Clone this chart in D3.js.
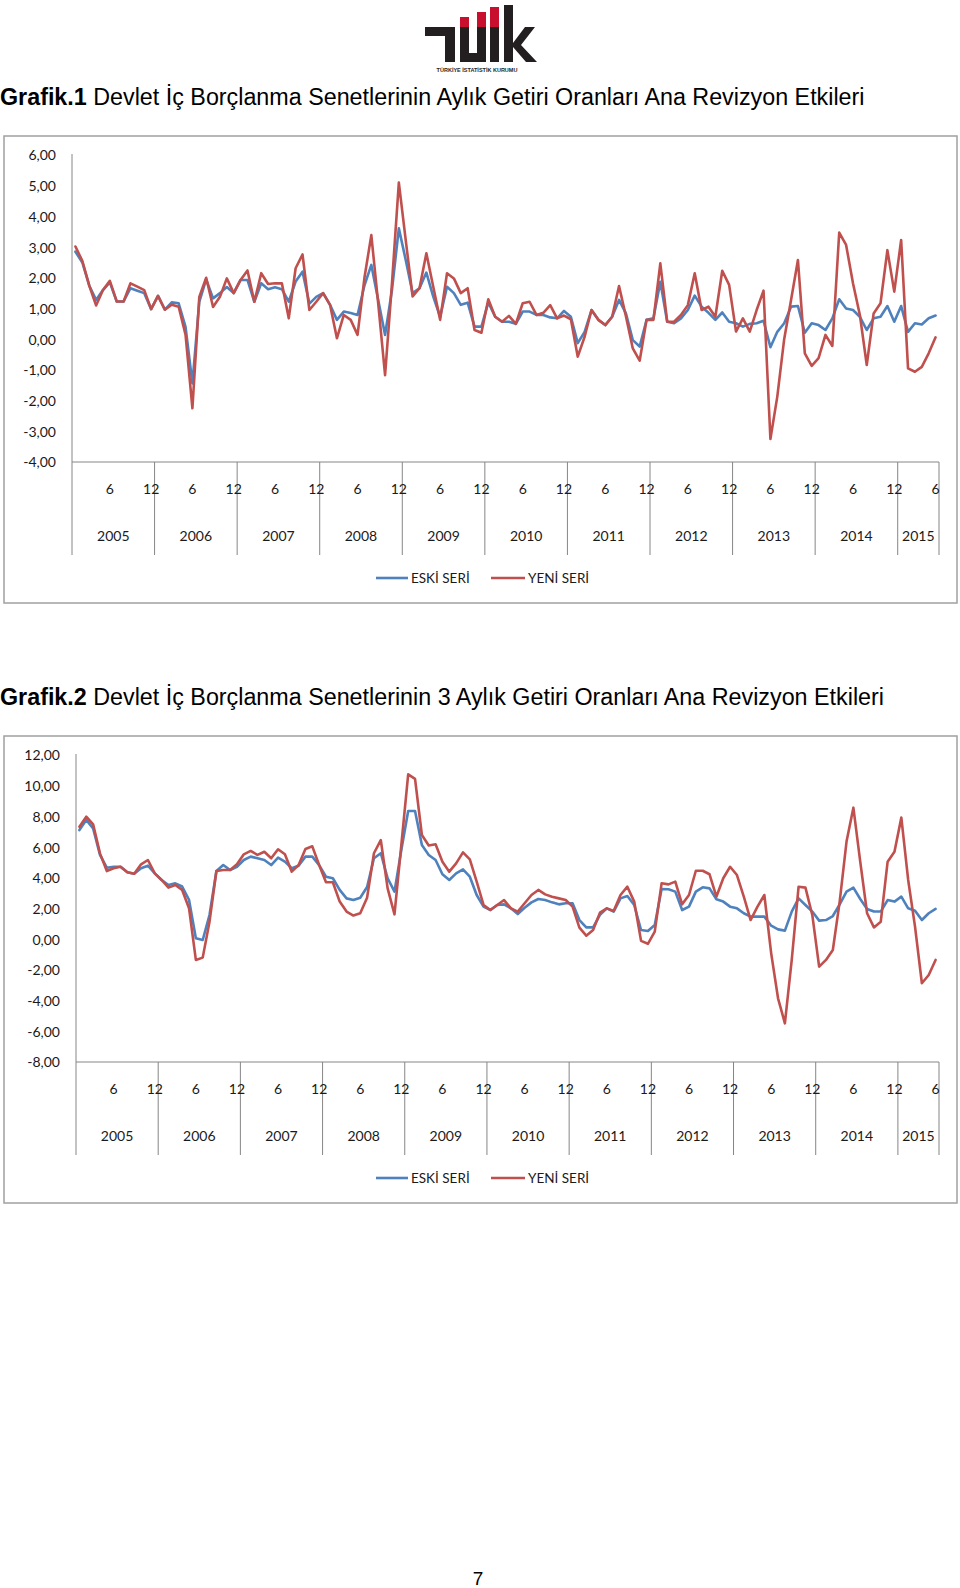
<!DOCTYPE html>
<html><head><meta charset="utf-8">
<script src="https://cdn.jsdelivr.net/npm/d3@7"></script>
<style>body{margin:0;background:#fff}svg{display:block}</style>
</head><body>
<svg id="page" width="960" height="1588"></svg>
<script>
const years = ["2005","2006","2007","2008","2009","2010","2011","2012","2013","2014","2015"];
const monthsInYear = [12,12,12,12,12,12,12,12,12,12,6];
const monthTickLabels = [6, 12];
const yTicks1 = [6,5,4,3,2,1,0,-1,-2,-3,-4];
const yTicks2 = [12,10,8,6,4,2,0,-2,-4,-6,-8];
const seriesNames = ["ESKİ SERİ","YENİ SERİ"];
const seriesColors = ["#4F81BD","#C0504D"];

const eski1 = [2.85,2.5,1.75,1.28,1.6,1.85,1.23,1.23,1.66,1.58,1.5,0.98,
1.41,0.96,1.2,1.17,0.4,-1.44,1.22,1.95,1.33,1.5,1.7,1.5,
1.93,1.93,1.22,1.82,1.63,1.69,1.63,1.22,1.88,2.2,1.16,1.38,
1.5,1.12,0.63,0.9,0.85,0.79,1.75,2.42,1.28,0.14,1.6,3.61,
2.58,1.5,1.66,2.17,1.39,0.73,1.71,1.5,1.12,1.19,0.41,0.41,
1.2,0.73,0.57,0.57,0.5,0.9,0.9,0.79,0.79,0.71,0.68,0.92,
0.73,-0.13,0.24,0.95,0.63,0.46,0.73,1.28,0.84,-0.03,-0.24,0.63,
0.68,1.87,0.57,0.52,0.68,0.95,1.42,1.06,0.86,0.63,0.87,0.57,
0.52,0.41,0.5,0.52,0.6,-0.26,0.24,0.52,1.06,1.08,0.21,0.52,
0.46,0.3,0.68,1.3,1.0,0.95,0.73,0.3,0.68,0.73,1.08,0.57,
1.08,0.24,0.52,0.48,0.68,0.77];
const yeni1 = [3.02,2.55,1.75,1.1,1.6,1.9,1.23,1.23,1.82,1.71,1.6,0.98,
1.41,0.96,1.12,1.06,0.15,-2.25,1.38,2.0,1.05,1.38,1.98,1.5,
1.93,2.24,1.22,2.15,1.8,1.82,1.82,0.68,2.31,2.76,0.95,1.22,
1.5,1.12,0.03,0.79,0.63,0.14,2.0,3.39,1.17,-1.17,1.82,5.1,
3.23,1.39,1.66,2.8,1.71,0.63,2.15,1.98,1.5,1.66,0.3,0.21,
1.3,0.73,0.57,0.76,0.5,1.17,1.22,0.79,0.86,1.11,0.68,0.77,
0.65,-0.57,0.08,0.95,0.63,0.46,0.73,1.73,0.75,-0.3,-0.7,0.63,
0.63,2.47,0.57,0.57,0.79,1.11,2.15,0.95,1.06,0.73,2.23,1.77,
0.25,0.68,0.25,0.95,1.58,-3.25,-1.87,0.0,1.28,2.58,-0.46,-0.87,
-0.62,0.14,-0.22,3.47,3.07,1.82,0.79,-0.84,0.84,1.17,2.9,1.55,
3.23,-0.95,-1.06,-0.9,-0.46,0.06];
const eski2 = [7.11,7.77,7.22,5.49,4.66,4.72,4.72,4.36,4.27,4.62,4.79,4.29,
3.86,3.53,3.64,3.43,2.57,0.06,-0.05,1.59,4.44,4.83,4.51,4.72,
5.16,5.38,5.27,5.16,4.83,5.31,5.05,4.62,4.79,5.38,5.38,4.83,
4.07,3.97,3.21,2.66,2.55,2.7,3.4,5.27,5.6,3.97,3.1,5.81,
8.35,8.35,6.14,5.49,5.16,4.23,3.86,4.29,4.55,4.07,2.88,2.12,
1.9,2.23,2.27,2.01,1.64,2.05,2.4,2.62,2.55,2.4,2.27,2.34,
2.34,1.25,0.77,0.77,1.59,2.01,1.8,2.66,2.81,2.23,0.6,0.53,
0.93,3.27,3.25,3.1,1.9,2.12,3.1,3.38,3.31,2.6,2.45,2.12,
2.01,1.69,1.47,1.47,1.47,0.88,0.64,0.56,1.8,2.66,2.23,1.8,
1.21,1.25,1.51,2.27,3.1,3.36,2.62,1.97,1.8,1.8,2.55,2.45,
2.77,2.01,1.86,1.25,1.69,1.97];
const yeni2 = [7.33,7.98,7.48,5.59,4.44,4.62,4.72,4.36,4.27,4.88,5.16,4.29,
3.86,3.36,3.53,3.21,2.02,-1.35,-1.2,1.16,4.44,4.51,4.51,4.88,
5.53,5.75,5.49,5.7,5.27,5.86,5.53,4.4,4.83,5.88,6.05,4.83,
3.71,3.71,2.45,1.8,1.54,1.69,2.7,5.6,6.46,3.31,1.62,6.14,
10.74,10.44,6.79,6.1,6.18,5.05,4.4,4.94,5.66,5.2,3.75,2.23,
1.9,2.23,2.55,2.01,1.8,2.34,2.88,3.21,2.92,2.77,2.66,2.55,
2.12,0.75,0.23,0.6,1.73,2.01,1.84,2.88,3.42,2.45,-0.11,-0.3,
0.49,3.64,3.57,3.75,2.27,2.88,4.46,4.46,4.23,2.77,3.97,4.72,
4.18,2.77,1.25,2.12,2.88,-0.92,-3.85,-5.48,-1.35,3.42,3.36,1.58,
-1.79,-1.35,-0.7,2.45,6.36,8.57,5.05,1.69,0.77,1.14,5.05,5.7,
7.92,3.86,0.82,-2.87,-2.33,-1.35];

const categories = years.flatMap((y, k) => d3.range(1, monthsInYear[k] + 1).map(m => ({year: y, month: m})));
const fmt = d3.formatLocale({decimal: ",", thousands: ".", grouping: [3], currency: ["", ""], minus: "-"}).format(".2f");

const svg = d3.select("#page");
svg.append("rect").attr("width", 960).attr("height", 1588).attr("fill", "#fff");

// ---- logo ----
const logo = svg.append("g").attr("transform", "translate(425,5)");
const blk = "#231f20", red = "#c8102e";
logo.append("rect").attr("x", 0).attr("y", 22).attr("width", 30).attr("height", 9).attr("fill", blk);
logo.append("rect").attr("x", 20).attr("y", 22).attr("width", 10).attr("height", 35).attr("fill", blk);
logo.append("rect").attr("x", 35).attr("y", 22).attr("width", 9).attr("height", 35).attr("fill", blk);
logo.append("rect").attr("x", 35).attr("y", 48).attr("width", 26).attr("height", 9).attr("fill", blk);
logo.append("rect").attr("x", 52).attr("y", 22).attr("width", 9).attr("height", 35).attr("fill", blk);
logo.append("rect").attr("x", 35).attr("y", 12).attr("width", 9).attr("height", 10).attr("fill", red);
logo.append("rect").attr("x", 52).attr("y", 7).attr("width", 9).attr("height", 15).attr("fill", red);
logo.append("rect").attr("x", 65).attr("y", 22).attr("width", 9).attr("height", 35).attr("fill", blk);
logo.append("rect").attr("x", 65).attr("y", 2).attr("width", 9).attr("height", 20).attr("fill", red);
logo.append("rect").attr("x", 79).attr("y", 0).attr("width", 9).attr("height", 57).attr("fill", blk);
logo.append("path").attr("d", "M88,38 L100,22 L110,22 L96,40 L112,57 L101,57 L88,42 Z").attr("fill", blk);
logo.append("text").attr("x", 52).attr("y", 67).attr("text-anchor", "middle")
  .attr("font-family", "Liberation Sans, Arial, sans-serif").attr("font-size", 5.5).attr("font-weight", "bold")
  .attr("fill", blk).text("TÜRKİYE İSTATİSTİK KURUMU");

// ---- titles ----
function title(y, bold, rest) {
  const t = svg.append("text").attr("x", 0).attr("y", y)
    .attr("font-family", "Liberation Sans, Arial, sans-serif").attr("font-size", 23.3).attr("fill", "#000");
  t.append("tspan").attr("font-weight", "bold").text(bold);
  t.append("tspan").text(rest);
}
title(105, "Grafik.1", " Devlet İç Borçlanma Senetlerinin Aylık Getiri Oranları Ana Revizyon Etkileri");
title(705, "Grafik.2", " Devlet İç Borçlanma Senetlerinin 3 Aylık Getiri Oranları Ana Revizyon Etkileri");

// ---- charts ----
function drawChart(cfg) {
  const g = svg.append("g");
  const font = "Lato, 'Open Sans', sans-serif";
  g.append("rect").attr("x", cfg.frame[0]).attr("y", cfg.frame[1])
    .attr("width", cfg.frame[2] - cfg.frame[0]).attr("height", cfg.frame[3] - cfg.frame[1])
    .attr("fill", "#fff").attr("stroke", "#a0a0a0").attr("stroke-width", 1.5);

  const x = d3.scaleBand().domain(d3.range(categories.length)).range([cfg.left, cfg.right]).padding(0);
  const y = d3.scaleLinear().domain([cfg.ticks[cfg.ticks.length - 1], cfg.ticks[0]]).range([cfg.bottom, cfg.top]);
  const cx = i => x(i) + x.bandwidth() / 2;

  const ya = g.append("g").attr("transform", `translate(${cfg.left},0)`)
    .call(d3.axisLeft(y).tickValues(cfg.ticks).tickSize(0).tickPadding(cfg.labelPad).tickFormat(fmt));
  ya.select(".domain").remove();
  ya.selectAll("text").attr("font-family", font).attr("font-size", 14).attr("fill", "#1a1a1a").attr("dy", "0.35em");

  const axisColor = "#868686";
  g.append("line").attr("x1", cfg.left).attr("x2", cfg.left).attr("y1", cfg.top - 1).attr("y2", cfg.sepBottom)
    .attr("stroke", axisColor).attr("stroke-width", 1);
  g.append("line").attr("x1", cfg.left).attr("x2", cfg.right).attr("y1", cfg.bottom).attr("y2", cfg.bottom)
    .attr("stroke", axisColor).attr("stroke-width", 1);

  let start = 0;
  years.forEach((yr, k) => {
    const end = start + monthsInYear[k];
    const x0 = x(start), x1 = end < categories.length ? x(end) : cfg.right;
    g.append("line").attr("x1", x1).attr("x2", x1).attr("y1", cfg.bottom).attr("y2", cfg.sepBottom)
      .attr("stroke", axisColor).attr("stroke-width", 1);
    g.append("text").attr("x", (x0 + x1) / 2).attr("y", cfg.yearY).attr("dy", "0.35em")
      .attr("text-anchor", "middle").attr("font-family", font).attr("font-size", 14).attr("fill", "#1a1a1a").text(yr);
    start = end;
  });

  const mIdx = d3.range(categories.length).filter(i => monthTickLabels.includes(categories[i].month));
  const xa = g.append("g").attr("transform", `translate(0,${cfg.bottom})`)
    .call(d3.axisBottom(x).tickValues(mIdx).tickSize(0).tickFormat(i => String(categories[i].month)));
  xa.select(".domain").remove();
  xa.selectAll("text").attr("y", cfg.monthY - cfg.bottom).attr("dy", "0.35em")
    .attr("font-family", font).attr("font-size", 14).attr("fill", "#1a1a1a");

  const line = d3.line().x((d, i) => cx(i)).y(d => y(d));
  [cfg.eski, cfg.yeni].forEach((data, s) => {
    g.append("path").datum(data).attr("d", line).attr("fill", "none")
      .attr("stroke", seriesColors[s]).attr("stroke-width", 2.6)
      .attr("stroke-linejoin", "round").attr("stroke-linecap", "round");
  });

  const legX = [[376, 408], [491, 525]];
  seriesNames.forEach((name, s) => {
    g.append("line").attr("x1", legX[s][0]).attr("x2", legX[s][1]).attr("y1", cfg.legendY).attr("y2", cfg.legendY)
      .attr("stroke", seriesColors[s]).attr("stroke-width", 2.6);
    g.append("text").attr("x", legX[s][1] + 3).attr("y", cfg.legendY).attr("dy", "0.35em")
      .attr("font-family", font).attr("font-size", 13.5).attr("fill", "#1a1a1a").text(name);
  });
}

drawChart({frame: [4, 136, 957, 603], left: 72, right: 939, top: 155, bottom: 462, sepBottom: 555,
  monthY: 489, yearY: 536, legendY: 578, labelPad: 16, ticks: yTicks1, eski: eski1, yeni: yeni1});
drawChart({frame: [4, 736, 957, 1203], left: 76, right: 939, top: 755, bottom: 1062, sepBottom: 1155,
  monthY: 1089, yearY: 1136, legendY: 1178, labelPad: 16, ticks: yTicks2, eski: eski2, yeni: yeni2});

svg.append("text").attr("x", 478).attr("y", 1585).attr("text-anchor", "middle")
  .attr("font-family", "Liberation Sans, Arial, sans-serif").attr("font-size", 19).attr("fill", "#000").text("7");
</script>
</body></html>
